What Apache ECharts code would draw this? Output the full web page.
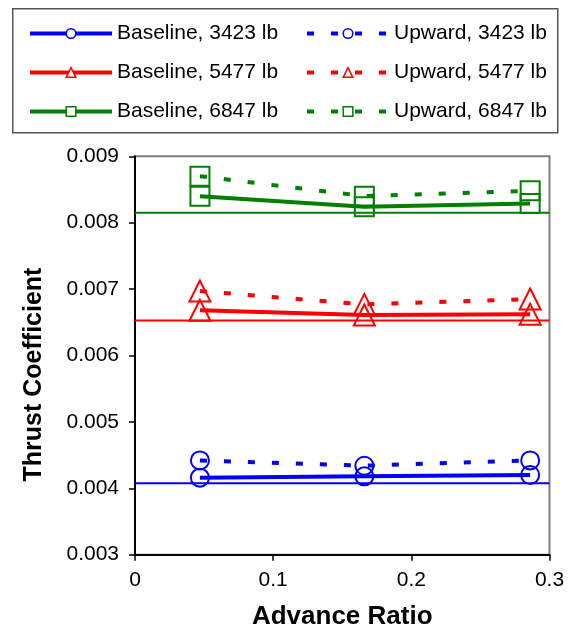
<!DOCTYPE html>
<html>
<head>
<meta charset="utf-8">
<script src="https://cdn.jsdelivr.net/npm/echarts@6/dist/echarts.min.js"></script>
<style>
  html, body { margin: 0; padding: 0; background: #fff; }
  #chart { width: 568px; height: 631px; }
</style>
</head>
<body>
<div id="chart"></div>
<script>
// ---- data ----
const advanceRatio = [0.047, 0.166, 0.286];
const baseline3423 = [0.00416, 0.00418, 0.0042];
const upward3423 = [0.00442, 0.00434, 0.00442];
const baseline5477 = [0.00668, 0.00661, 0.00662];
const upward5477 = [0.00697, 0.00677, 0.00685];
const baseline6847 = [0.0084, 0.00824, 0.00829];
const upward6847 = [0.0087, 0.0084, 0.00848];
const refLevels = [0.004075, 0.006527, 0.008151];
const refXRange = [0, 0.3];
const seriesNames = [
  'Baseline, 3423 lb', 'Upward, 3423 lb',
  'Baseline, 5477 lb', 'Upward, 5477 lb',
  'Baseline, 6847 lb', 'Upward, 6847 lb'
];
const xTicks = [0, 0.1, 0.2, 0.3];
const yTicks = [0.003, 0.004, 0.005, 0.006, 0.007, 0.008, 0.009];

const colors = ['#0000ff', '#ff0000', '#008000'];
const symbols = ['circle', 'triangle', 'rect'];
const symbolSizes = [18, 21, 19];
const FONT = '"Liberation Sans", Arial, sans-serif';

function pairs(ys) { return advanceRatio.map((x, i) => [x, ys[i]]); }

const groups = [
  [baseline3423, upward3423],
  [baseline5477, upward5477],
  [baseline6847, upward6847]
];

const series = [];
refLevels.forEach((v, i) => {
  series.push({
    type: 'line', silent: true, symbol: 'none', z: 1,
    data: refXRange.map(x => [x, v]),
    lineStyle: { color: colors[i], width: 2 },
    itemStyle: { color: colors[i] }
  });
});
groups.forEach((g, i) => {
  g.forEach((ys, j) => {
    series.push({
      name: seriesNames[i * 2 + j],
      type: 'line', z: 3,
      data: pairs(ys),
      symbol: symbols[i],
      symbolSize: symbolSizes[i],
      showSymbol: true,
      lineStyle: { color: colors[i], width: 4, type: j === 0 ? 'solid' : [7, 17], cap: 'butt' },
      itemStyle: { color: 'rgba(255,255,255,0)', borderColor: colors[i], borderWidth: 2 }
    });
  });
});

const legendCommon = {
  orient: 'vertical',
  top: 23,
  padding: 0,
  itemWidth: 82,
  itemHeight: 12,
  itemGap: 18,
  selectedMode: false,
  textStyle: { fontFamily: FONT, fontSize: 21, color: '#000' },
  itemStyle: { color: '#fff', borderWidth: 1.5 },
  lineStyle: { width: 4 }
};

const chart = echarts.init(document.getElementById('chart'), null, { renderer: 'canvas' });
chart.setOption({
  animation: false,
  backgroundColor: '#fff',
  graphic: [{
    type: 'rect', left: 12, top: 8, z: -1,
    shape: { width: 545, height: 124 },
    style: { fill: '#fff', stroke: '#555', lineWidth: 1.5 }
  }],
  legend: [
    Object.assign({}, legendCommon, { left: 28, data: [seriesNames[0], seriesNames[2], seriesNames[4]] }),
    Object.assign({}, legendCommon, { left: 305, data: [seriesNames[1], seriesNames[3], seriesNames[5]] })
  ],
  grid: {
    left: 135, right: 18.5, top: 156.3, bottom: 76.3,
    containLabel: false,
    outerBoundsMode: 'none',
    show: true, borderColor: '#808080', borderWidth: 2, backgroundColor: 'transparent'
  },
  xAxis: {
    type: 'value', min: xTicks[0], max: xTicks[xTicks.length - 1], interval: 0.1,
    name: 'Advance Ratio', nameLocation: 'middle', nameGap: 49,
    nameTextStyle: { fontFamily: FONT, fontSize: 26, fontWeight: 'bold', color: '#000' },
    axisLine: { lineStyle: { color: '#000', width: 2 } },
    axisTick: { show: true, length: 6, lineStyle: { color: '#000', width: 1.5 } },
    splitLine: { show: false },
    axisLabel: {
      fontFamily: FONT, fontSize: 21, color: '#000', margin: 15,
      formatter: v => (Math.abs(v) < 1e-9 ? '0' : v.toFixed(1))
    }
  },
  yAxis: {
    type: 'value', min: yTicks[0], max: yTicks[yTicks.length - 1], interval: 0.001,
    name: 'Thrust Coefficient', nameLocation: 'middle', nameGap: 88,
    nameTextStyle: { fontFamily: FONT, fontSize: 25, fontWeight: 'bold', color: '#000', padding: [0, 38, 0, 0] },
    axisLine: { show: true, lineStyle: { color: '#000', width: 2 } },
    axisTick: { show: true, length: 6, lineStyle: { color: '#000', width: 1.5 } },
    splitLine: { show: false },
    axisLabel: {
      fontFamily: FONT, fontSize: 21, color: '#000', margin: 16,
      formatter: v => v.toFixed(3)
    }
  },
  series: series
});
</script>
</body>
</html>
